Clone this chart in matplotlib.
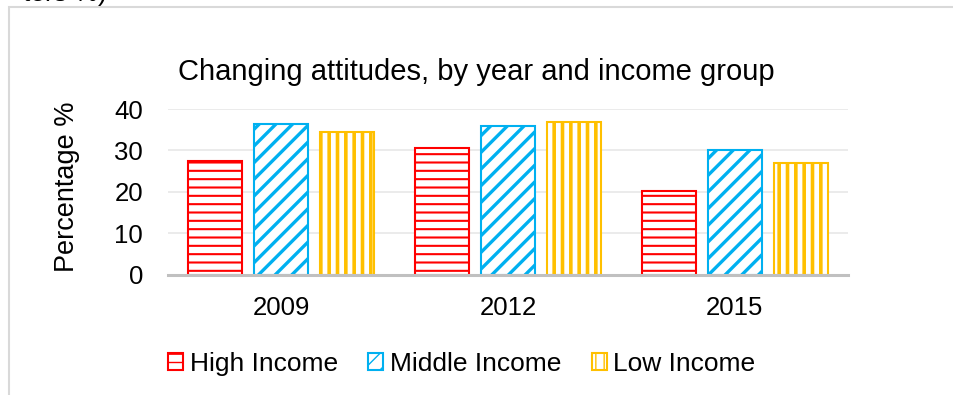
import matplotlib
matplotlib.use("Agg")
import matplotlib.pyplot as plt
import numpy as np
from matplotlib.patches import Rectangle

years = ["2009", "2012", "2015"]
groups = ["High Income", "Middle Income", "Low Income"]
high_income = [27.5, 30.5, 20.2]
middle_income = [36.5, 35.8, 30.2]
low_income = [34.4, 36.9, 27.1]

colors = ["#ff0000", "#00b0f0", "#ffc000"]
hatches = ["--", "//", "||"]
hatch_widths = [1.5, 2.4, 2.6]

plt.rcParams["font.family"] = ["Liberation Sans", "DejaVu Sans"]

fig = plt.figure(figsize=(9.54, 3.95), dpi=100)
ax = fig.add_axes([0.176, 0.304, 0.713, 0.42])

x = np.arange(len(years))
width = 0.238
step = 0.291
series = [high_income, middle_income, low_income]
for i, (vals, name) in enumerate(zip(series, groups)):
    bars = ax.bar(x + (i - 1) * step, vals, width, label=name,
                  facecolor="white", edgecolor=colors[i], hatch=hatches[i],
                  linewidth=1.5, zorder=3)
    for b in bars:
        try:
            b.set_hatch_linewidth(hatch_widths[i])
        except AttributeError:
            pass

ax.set_xlim(-0.5, 2.5)
ax.set_ylim(0, 40)
ax.set_yticks([0, 10, 20, 30, 40])
ax.set_xticks(x)
ax.set_xticklabels(years)
ax.tick_params(axis="both", length=0, labelsize=18.5)
ax.tick_params(axis="x", pad=15)
ax.tick_params(axis="y", pad=18)
ax.grid(axis="y", color="#e9e9e9", linewidth=1.3, zorder=0)
for side in ["left", "right", "top"]:
    ax.spines[side].set_visible(False)
ax.spines["bottom"].set_color("#c0c0c0")
ax.spines["bottom"].set_linewidth(2.2)
ax.spines["bottom"].set_zorder(4)

ax.set_ylabel("Percentage %", fontsize=19.5)
ax.yaxis.set_label_coords(-0.129, 0.53)
fig.text(0.499, 0.818, "Changing attitudes, by year and income group",
         ha="center", va="center", fontsize=21)

leg = ax.legend(loc="center", bbox_to_anchor=(0.432, -0.535), ncol=3,
                frameon=False, fontsize=19, handlelength=0.57, handleheight=0.6,
                handletextpad=0.25, columnspacing=1.15)

# chart-area frame and the tail of the caption above it
fig.patches.append(Rectangle((9 / 954, -0.1), 1.2, 1.1 - 7 / 395, fill=False,
                             edgecolor="#d9d9d9", linewidth=1.5,
                             transform=fig.transFigure, clip_on=False))
fig.text(0.024, 1 - 1.5 / 395, "ters %)", ha="left", va="baseline", fontsize=19)

fig.savefig("out.png", dpi=100)
